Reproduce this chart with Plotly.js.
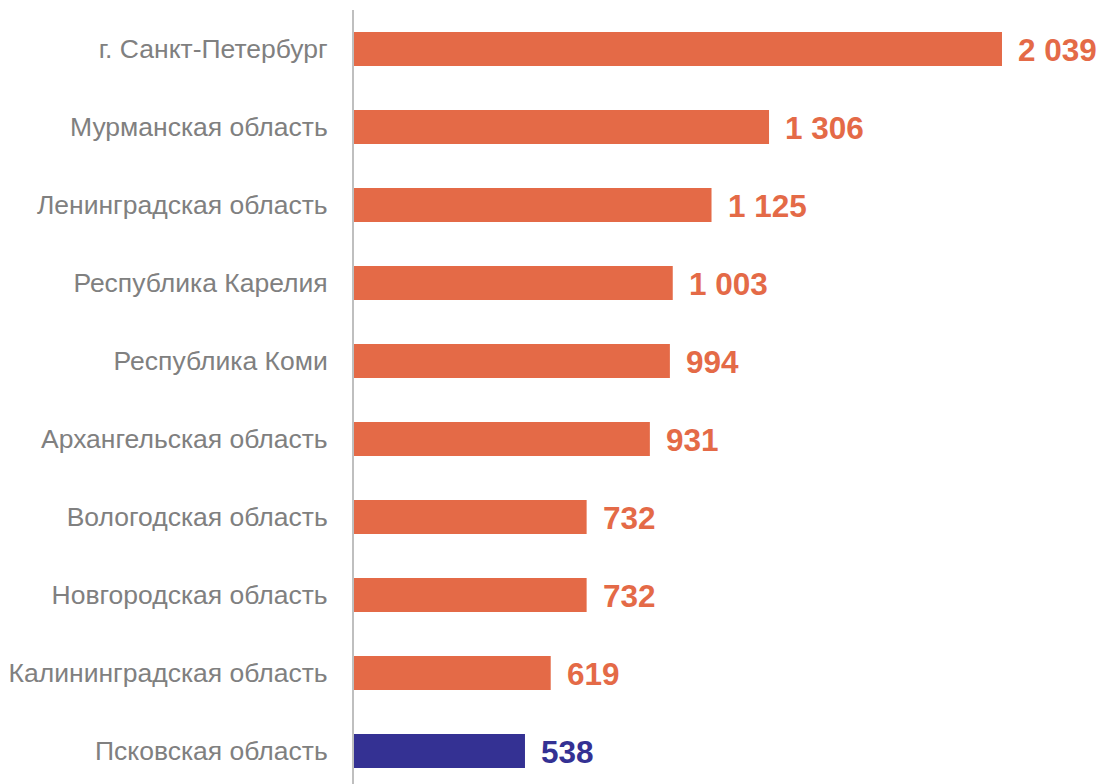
<!DOCTYPE html>
<html><head><meta charset="utf-8">
<script src="https://cdn.plot.ly/plotly-3.0.1.min.js"></script>
<style>html,body{margin:0;padding:0;background:#fff;}#chart{width:1102px;height:784px;}</style>
</head><body><div id="chart"></div>
<script>
const categories = ["г. Санкт-Петербург","Мурманская область","Ленинградская область","Республика Карелия","Республика Коми","Архангельская область","Вологодская область","Новгородская область","Калининградская область","Псковская область"];
const values = [2039,1306,1125,1003,994,931,732,732,619,538];
const barColors = ["#E46A47","#E46A47","#E46A47","#E46A47","#E46A47","#E46A47","#E46A47","#E46A47","#E46A47","#343193"];

function fmt(v){return String(v).replace(/\B(?=(\d{3})+(?!\d))/g," ");}

const trace = {
  type:"bar", orientation:"h",
  x: values, y: categories,
  marker:{color:barColors},
  width:0.436,
  hoverinfo:"none"
};
const annotations = values.map((v,i)=>({
  x:v, y:categories[i], xref:"x", yref:"y",
  text:"<b>"+fmt(v)+"</b>", showarrow:false, xanchor:"left", yanchor:"middle",
  xshift:14, yshift:-1,
  font:{family:"Liberation Sans, Arial, sans-serif", size:31.5, color:barColors[i]}
}));
const layout = {
  width:1102, height:784,
  margin:{l:354,r:0,t:10,b:0},
  paper_bgcolor:"#fff", plot_bgcolor:"#fff",
  showlegend:false,
  xaxis:{range:[0,2353.7], showgrid:false, zeroline:false, showticklabels:false, showline:false, fixedrange:true},
  yaxis:{type:"category", range:[9.423,-0.5], showgrid:false, zeroline:false,
    showline:true, linecolor:"#BFBFBF", linewidth:2,
    ticks:"", ticklabelstandoff:19,
    tickfont:{family:"Liberation Sans, Arial, sans-serif", size:26.5, color:"#808080"}},
  annotations: annotations
};
Plotly.newPlot("chart",[trace],layout,{displayModeBar:false,staticPlot:true});
</script></body></html>
